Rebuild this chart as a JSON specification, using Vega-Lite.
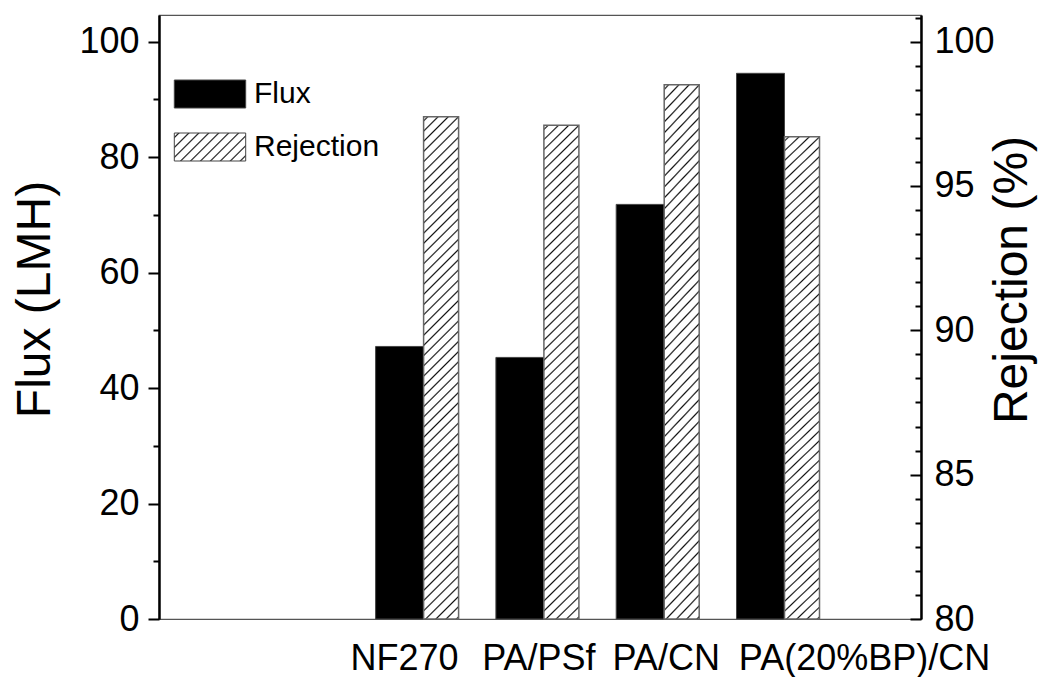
{
  "$schema": "https://vega.github.io/schema/vega-lite/v6.json",
  "width": 762,
  "height": 604,
  "autosize": {"type": "none"},
  "padding": {"left": 159, "top": 15, "right": 118, "bottom": 58},
  "background": "white",
  "config": {
    "font": "Liberation Sans",
    "view": {"stroke": "#555555", "strokeWidth": 1.2}
  },
  "data": {
    "values": [
      {"membrane": "NF270", "flux": 47.2, "rejection": 97.4},
      {"membrane": "PA/PSf", "flux": 45.3, "rejection": 97.1},
      {"membrane": "PA/CN", "flux": 71.8, "rejection": 98.5},
      {"membrane": "PA(20%BP)/CN", "flux": 94.5, "rejection": 96.7}
    ]
  },
  "layer": [
    {
      "mark": {"type": "bar", "width": 48, "stroke": "#444444", "strokeWidth": 1},
      "encoding": {
        "x": {
          "field": "membrane",
          "type": "nominal",
          "sort": null,
          "scale": {"type": "band", "paddingInner": 0, "paddingOuter": 1, "align": 0.5, "range": [60.15, 781.95]},
          "axis": {
            "title": null,
            "ticks": false,
            "tickSize": 0,
            "domain": false,
            "labelAngle": 0,
            "labelFont": "Liberation Sans",
            "labelFontSize": 36,
            "labelColor": "black",
            "labelBaseline": "alphabetic",
            "labelPadding": 50,
            "labelOverlap": false,
            "labelFlush": false,
            "labelBound": false,
            "labelLimit": 400,
            "labelOffset": {
              "condition": [
                {"test": "datum.value === 'NF270'", "value": 5},
                {"test": "datum.value === 'PA/PSf'", "value": 19},
                {"test": "datum.value === 'PA/CN'", "value": 26}
              ],
              "value": 104
            }
          }
        },
        "y": {
          "field": "flux",
          "type": "quantitative",
          "scale": {"domain": [0, 104.6], "nice": false},
          "axis": {
            "values": [0, 10, 20, 30, 40, 50, 60, 70, 80, 90, 100],
            "labelExpr": "datum.value % 20 === 0 ? datum.label : ''",
            "tickSize": {"condition": {"test": "datum.value % 20 === 0", "value": 11}, "value": 6},
            "tickWidth": 2,
            "tickColor": "black",
            "domainColor": "black",
            "domainWidth": 2.5,
            "grid": false,
            "labelFont": "Liberation Sans",
            "labelFontSize": 36,
            "labelColor": "black",
            "labelPadding": 9,
            "labelOverlap": false,
            "labelFlush": false,
            "title": "Flux (LMH)",
            "titleFont": "Liberation Sans",
            "titleFontSize": 48,
            "titleFontWeight": "normal",
            "titleColor": "black",
            "titleAngle": 270,
            "titleAlign": "center",
            "titleBaseline": "alphabetic",
            "titleX": -110,
            "titleY": 284
          }
        },
        "fill": {
          "datum": "Flux",
          "type": "nominal",
          "scale": {
            "domain": ["Flux", "Rejection"],
            "range": [
              "black",
              {"expr": "{'gradient': 'linear', 'x1': 0, 'y1': 0, 'x2': 1.2067, 'y2': 0.4759, 'stops': [{'offset': 0.03, 'color': 'white'}, {'offset': 0.046, 'color': '#111111'}, {'offset': 0.062, 'color': 'white'}, {'offset': 0.13, 'color': 'white'}, {'offset': 0.146, 'color': '#111111'}, {'offset': 0.162, 'color': 'white'}, {'offset': 0.23, 'color': 'white'}, {'offset': 0.246, 'color': '#111111'}, {'offset': 0.262, 'color': 'white'}, {'offset': 0.33, 'color': 'white'}, {'offset': 0.346, 'color': '#111111'}, {'offset': 0.362, 'color': 'white'}, {'offset': 0.43, 'color': 'white'}, {'offset': 0.446, 'color': '#111111'}, {'offset': 0.462, 'color': 'white'}, {'offset': 0.53, 'color': 'white'}, {'offset': 0.546, 'color': '#111111'}, {'offset': 0.562, 'color': 'white'}, {'offset': 0.63, 'color': 'white'}, {'offset': 0.646, 'color': '#111111'}, {'offset': 0.662, 'color': 'white'}, {'offset': 0.73, 'color': 'white'}, {'offset': 0.746, 'color': '#111111'}, {'offset': 0.762, 'color': 'white'}, {'offset': 0.83, 'color': 'white'}, {'offset': 0.846, 'color': '#111111'}, {'offset': 0.862, 'color': 'white'}, {'offset': 0.93, 'color': 'white'}, {'offset': 0.946, 'color': '#111111'}, {'offset': 0.962, 'color': 'white'}]}"}
            ]
          },
          "legend": {
            "title": null,
            "orient": "none",
            "legendX": 36,
            "legendY": 64,
            "padding": 0,
            "rowPadding": 21,
            "direction": "vertical",
            "symbolType": "M-2.55,-1H2.55V1H-2.55Z",
            "symbolSize": 784,
            "symbolStrokeWidth": 1,
            "symbolStrokeColor": "#444444",
            "labelFont": "Liberation Sans",
            "labelFontSize": 30,
            "labelColor": "black",
            "labelOffset": 29,
            "labelLimit": 400
          }
        }
      }
    },
    {
      "mark": {
        "type": "bar",
        "width": 35,
        "xOffset": 41.5,
        "stroke": "#666666",
        "strokeWidth": 1.5,
        "fill": {
          "gradient": "linear",
          "x1": 0, "y1": 0, "x2": 0.0738, "y2": 1.0642,
          "stops": [
            {"offset": 0.005, "color": "white"}, {"offset": 0.008, "color": "#111111"}, {"offset": 0.011, "color": "white"},
            {"offset": 0.024, "color": "white"}, {"offset": 0.027, "color": "#111111"}, {"offset": 0.030, "color": "white"},
            {"offset": 0.043, "color": "white"}, {"offset": 0.046, "color": "#111111"}, {"offset": 0.049, "color": "white"},
            {"offset": 0.062, "color": "white"}, {"offset": 0.065, "color": "#111111"}, {"offset": 0.068, "color": "white"},
            {"offset": 0.081, "color": "white"}, {"offset": 0.084, "color": "#111111"}, {"offset": 0.087, "color": "white"},
            {"offset": 0.100, "color": "white"}, {"offset": 0.103, "color": "#111111"}, {"offset": 0.106, "color": "white"},
            {"offset": 0.119, "color": "white"}, {"offset": 0.122, "color": "#111111"}, {"offset": 0.125, "color": "white"},
            {"offset": 0.138, "color": "white"}, {"offset": 0.141, "color": "#111111"}, {"offset": 0.144, "color": "white"},
            {"offset": 0.157, "color": "white"}, {"offset": 0.160, "color": "#111111"}, {"offset": 0.163, "color": "white"},
            {"offset": 0.176, "color": "white"}, {"offset": 0.179, "color": "#111111"}, {"offset": 0.182, "color": "white"},
            {"offset": 0.195, "color": "white"}, {"offset": 0.198, "color": "#111111"}, {"offset": 0.201, "color": "white"},
            {"offset": 0.214, "color": "white"}, {"offset": 0.217, "color": "#111111"}, {"offset": 0.220, "color": "white"},
            {"offset": 0.233, "color": "white"}, {"offset": 0.236, "color": "#111111"}, {"offset": 0.239, "color": "white"},
            {"offset": 0.252, "color": "white"}, {"offset": 0.255, "color": "#111111"}, {"offset": 0.258, "color": "white"},
            {"offset": 0.271, "color": "white"}, {"offset": 0.274, "color": "#111111"}, {"offset": 0.277, "color": "white"},
            {"offset": 0.290, "color": "white"}, {"offset": 0.293, "color": "#111111"}, {"offset": 0.296, "color": "white"},
            {"offset": 0.309, "color": "white"}, {"offset": 0.312, "color": "#111111"}, {"offset": 0.315, "color": "white"},
            {"offset": 0.328, "color": "white"}, {"offset": 0.331, "color": "#111111"}, {"offset": 0.334, "color": "white"},
            {"offset": 0.347, "color": "white"}, {"offset": 0.350, "color": "#111111"}, {"offset": 0.353, "color": "white"},
            {"offset": 0.366, "color": "white"}, {"offset": 0.369, "color": "#111111"}, {"offset": 0.372, "color": "white"},
            {"offset": 0.385, "color": "white"}, {"offset": 0.388, "color": "#111111"}, {"offset": 0.391, "color": "white"},
            {"offset": 0.404, "color": "white"}, {"offset": 0.407, "color": "#111111"}, {"offset": 0.410, "color": "white"},
            {"offset": 0.423, "color": "white"}, {"offset": 0.426, "color": "#111111"}, {"offset": 0.429, "color": "white"},
            {"offset": 0.442, "color": "white"}, {"offset": 0.445, "color": "#111111"}, {"offset": 0.448, "color": "white"},
            {"offset": 0.461, "color": "white"}, {"offset": 0.464, "color": "#111111"}, {"offset": 0.467, "color": "white"},
            {"offset": 0.480, "color": "white"}, {"offset": 0.483, "color": "#111111"}, {"offset": 0.486, "color": "white"},
            {"offset": 0.499, "color": "white"}, {"offset": 0.502, "color": "#111111"}, {"offset": 0.505, "color": "white"},
            {"offset": 0.518, "color": "white"}, {"offset": 0.521, "color": "#111111"}, {"offset": 0.524, "color": "white"},
            {"offset": 0.537, "color": "white"}, {"offset": 0.540, "color": "#111111"}, {"offset": 0.543, "color": "white"},
            {"offset": 0.556, "color": "white"}, {"offset": 0.559, "color": "#111111"}, {"offset": 0.562, "color": "white"},
            {"offset": 0.575, "color": "white"}, {"offset": 0.578, "color": "#111111"}, {"offset": 0.581, "color": "white"},
            {"offset": 0.594, "color": "white"}, {"offset": 0.597, "color": "#111111"}, {"offset": 0.600, "color": "white"},
            {"offset": 0.613, "color": "white"}, {"offset": 0.616, "color": "#111111"}, {"offset": 0.619, "color": "white"},
            {"offset": 0.632, "color": "white"}, {"offset": 0.635, "color": "#111111"}, {"offset": 0.638, "color": "white"},
            {"offset": 0.651, "color": "white"}, {"offset": 0.654, "color": "#111111"}, {"offset": 0.657, "color": "white"},
            {"offset": 0.670, "color": "white"}, {"offset": 0.673, "color": "#111111"}, {"offset": 0.676, "color": "white"},
            {"offset": 0.689, "color": "white"}, {"offset": 0.692, "color": "#111111"}, {"offset": 0.695, "color": "white"},
            {"offset": 0.708, "color": "white"}, {"offset": 0.711, "color": "#111111"}, {"offset": 0.714, "color": "white"},
            {"offset": 0.727, "color": "white"}, {"offset": 0.730, "color": "#111111"}, {"offset": 0.733, "color": "white"},
            {"offset": 0.746, "color": "white"}, {"offset": 0.749, "color": "#111111"}, {"offset": 0.752, "color": "white"},
            {"offset": 0.765, "color": "white"}, {"offset": 0.768, "color": "#111111"}, {"offset": 0.771, "color": "white"},
            {"offset": 0.784, "color": "white"}, {"offset": 0.787, "color": "#111111"}, {"offset": 0.790, "color": "white"},
            {"offset": 0.803, "color": "white"}, {"offset": 0.806, "color": "#111111"}, {"offset": 0.809, "color": "white"},
            {"offset": 0.822, "color": "white"}, {"offset": 0.825, "color": "#111111"}, {"offset": 0.828, "color": "white"},
            {"offset": 0.841, "color": "white"}, {"offset": 0.844, "color": "#111111"}, {"offset": 0.847, "color": "white"},
            {"offset": 0.860, "color": "white"}, {"offset": 0.863, "color": "#111111"}, {"offset": 0.866, "color": "white"},
            {"offset": 0.879, "color": "white"}, {"offset": 0.882, "color": "#111111"}, {"offset": 0.885, "color": "white"},
            {"offset": 0.898, "color": "white"}, {"offset": 0.901, "color": "#111111"}, {"offset": 0.904, "color": "white"},
            {"offset": 0.917, "color": "white"}, {"offset": 0.920, "color": "#111111"}, {"offset": 0.923, "color": "white"},
            {"offset": 0.936, "color": "white"}, {"offset": 0.939, "color": "#111111"}, {"offset": 0.942, "color": "white"},
            {"offset": 0.955, "color": "white"}, {"offset": 0.958, "color": "#111111"}, {"offset": 0.961, "color": "white"},
            {"offset": 0.974, "color": "white"}, {"offset": 0.977, "color": "#111111"}, {"offset": 0.980, "color": "white"},
            {"offset": 0.993, "color": "white"}, {"offset": 0.996, "color": "#111111"}, {"offset": 0.999, "color": "white"}
          ]
        }
      },
      "encoding": {
        "x": {"field": "membrane", "type": "nominal", "sort": null},
        "y": {
          "field": "rejection",
          "type": "quantitative",
          "scale": {"domain": [80, 100.92], "nice": false, "zero": false},
          "axis": {
            "orient": "right",
            "values": [80, 80.8333, 81.6667, 82.5, 83.3333, 84.1667, 85, 85.8333, 86.6667, 87.5, 88.3333, 89.1667, 90, 90.8333, 91.6667, 92.5, 93.3333, 94.1667, 95, 95.8333, 96.6667, 97.5, 98.3333, 99.1667, 100, 100.8333],
            "labelExpr": "abs(datum.value - round(datum.value / 5) * 5) < 0.01 ? format(round(datum.value), 'd') : ''",
            "tickSize": {"condition": {"test": "abs(datum.value - round(datum.value / 5) * 5) < 0.01", "value": -11}, "value": -6},
            "tickWidth": 2,
            "tickColor": "black",
            "domainColor": "black",
            "domainWidth": 2.5,
            "grid": false,
            "labelFont": "Liberation Sans",
            "labelFontSize": 36,
            "labelColor": "black",
            "labelPadding": 24,
            "labelOverlap": false,
            "labelFlush": false,
            "title": "Rejection (%)",
            "titleFont": "Liberation Sans",
            "titleFontSize": 48,
            "titleFontWeight": "normal",
            "titleColor": "black",
            "titleAngle": 270,
            "titleAlign": "center",
            "titleBaseline": "alphabetic",
            "titleX": 105,
            "titleY": 264.5
          }
        },
        "y2": {"datum": 80}
      }
    }
  ],
  "resolve": {"scale": {"y": "independent"}}
}
